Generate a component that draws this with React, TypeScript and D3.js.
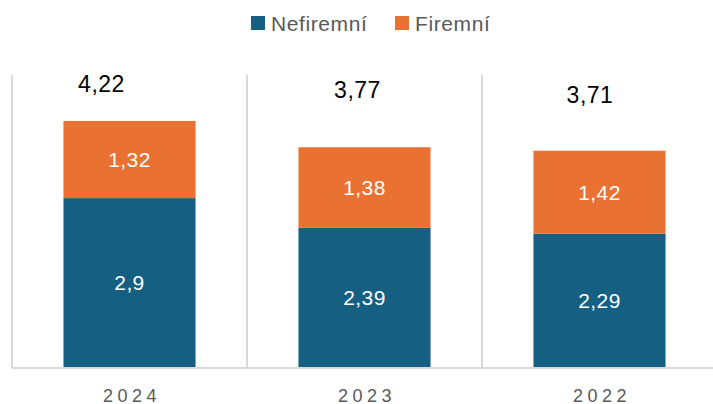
import React from "react";
import * as d3 from "d3";

const categories = ["2024", "2023", "2022"];
const nefiremni = [2.9, 2.39, 2.29];
const firemni = [1.32, 1.38, 1.42];
const totals = [4.22, 3.77, 3.71];
const seriesNames = ["Nefiremní", "Firemní"];

// layout nudges for total labels (manually placed in the original)
const totalNudgeX = [-28, -7, -9.5];
const totalNudgeY = [-29, -49, -48];

const W = 713;
const H = 404;
const BLUE = "#156082";
const ORANGE = "#E97132";
const GRID = "#D9D9D9";
const FONT = "'Liberation Sans', Arial, sans-serif";

const fmt = (v: number) => String(v).replace(".", ",");

export default function App() {
  const x = d3.scaleBand<string>().domain(categories).range([12, 717]).padding(0);
  const y = d3.scaleLinear().domain([0, 5]).range([367.5, 75.4]);
  const bw = x.bandwidth() * 0.562;

  const gridXs = categories.map((c) => x(c)!).concat([717]);

  return (
    <svg
      width={W}
      height={H}
      style={{ position: "absolute", left: 0, top: 0, background: "#fff" }}
      fontFamily={FONT}
    >
      {gridXs.map((gx, i) => (
        <line key={i} x1={gx} x2={gx} y1={75} y2={368} stroke={GRID} strokeWidth={2} />
      ))}
      {categories.map((c, i) => {
        const cx = x(c)! + x.bandwidth() / 2;
        const x0 = cx - bw / 2;
        const yB = y(nefiremni[i]);
        const yT = y(nefiremni[i] + firemni[i]);
        return (
          <g key={c}>
            <rect x={x0} y={yB} width={bw} height={y(0) - yB} fill={BLUE} />
            <rect x={x0} y={yT} width={bw} height={yB - yT} fill={ORANGE} />
            <text
              x={cx}
              y={(yB + y(0)) / 2}
              dy="0.36em"
              textAnchor="middle"
              fill="#fff"
              fontSize={21}
              letterSpacing={0.4}
            >
              {fmt(nefiremni[i])}
            </text>
            <text
              x={cx}
              y={(yT + yB) / 2}
              dy="0.36em"
              textAnchor="middle"
              fill="#fff"
              fontSize={21}
              letterSpacing={0.4}
            >
              {fmt(firemni[i])}
            </text>
            <text
              x={cx + totalNudgeX[i]}
              y={y(totals[i]) + totalNudgeY[i]}
              textAnchor="middle"
              fill="#000"
              fontSize={23}
              letterSpacing={0.5}
            >
              {fmt(totals[i])}
            </text>
            <text
              x={cx + 2.5}
              y={401.5}
              textAnchor="middle"
              fill="#595959"
              fontSize={18}
              letterSpacing={4.5}
            >
              {c}
            </text>
          </g>
        );
      })}
      <line x1={12} x2={W} y1={368} y2={368} stroke={GRID} strokeWidth={2} />
      <g>
        <rect x={251} y={16} width={14} height={14} fill={BLUE} />
        <text x={271} y={30.5} fill="#595959" fontSize={21} letterSpacing={0.6}>
          {seriesNames[0]}
        </text>
        <rect x={395} y={16} width={14} height={14} fill={ORANGE} />
        <text x={415} y={30.5} fill="#595959" fontSize={21} letterSpacing={0.6}>
          {seriesNames[1]}
        </text>
      </g>
    </svg>
  );
}
